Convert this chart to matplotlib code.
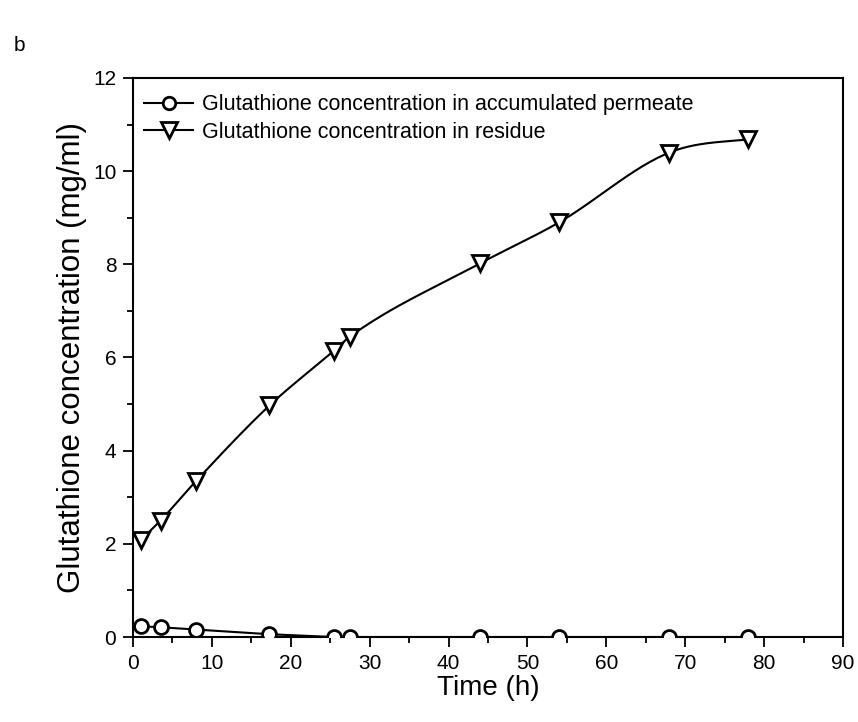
import numpy as np
import matplotlib.pyplot as plt
from matplotlib.ticker import MultipleLocator

plt.rcParams['font.family'] = ['Liberation Sans', 'DejaVu Sans']

# data
time_h = [1, 3.5, 8, 17.3, 25.5, 27.5, 44, 54, 68, 78]
permeate = [0.23, 0.21, 0.16, 0.06, 0.0, 0.0, 0.0, 0.0, 0.0, 0.0]
residue = [2.08, 2.5, 3.35, 4.97, 6.15, 6.45, 8.02, 8.9, 10.4, 10.68]


def smooth(x, y, n=30):
    # cubic hermite curve through the points, line only
    x = np.asarray(x, float)
    y = np.asarray(y, float)
    d = np.diff(y) / np.diff(x)
    m = np.empty_like(y)
    m[0], m[-1] = d[0], d[-1] * 0.6
    m[1:-1] = (d[:-1] + d[1:]) / 2
    xs, ys = [], []
    for i in range(len(x) - 1):
        h = x[i + 1] - x[i]
        t = np.linspace(0, 1, n)
        h00 = 2*t**3 - 3*t**2 + 1
        h10 = t**3 - 2*t**2 + t
        h01 = -2*t**3 + 3*t**2
        h11 = t**3 - t**2
        xs.append(x[i] + t*h)
        ys.append(h00*y[i] + h10*h*m[i] + h01*y[i+1] + h11*h*m[i+1])
    return np.concatenate(xs), np.concatenate(ys)


fig = plt.figure(figsize=(8.58, 7.22), dpi=100)
ax = fig.add_axes([0.155, 0.1177, 0.8275, 0.7743])

ax.plot(time_h, permeate, '-', color='black', lw=1.5, zorder=2)
ax.plot(time_h, permeate, 'o', color='black', mfc='white', mew=2, ms=10, zorder=3)
sx, sy = smooth(time_h, residue)
ax.plot(sx, sy, '-', color='black', lw=1.5, zorder=2)
ax.plot(time_h, residue, 'v', color='black', mfc='white', mew=2, ms=12, zorder=3)

# legend proxies
h1, = ax.plot([], [], '-o', color='black', mfc='white', mew=2, ms=9, lw=1.5)
h2, = ax.plot([], [], '-v', color='black', mfc='white', mew=2, ms=11, lw=1.5)
ax.legend([h1, h2], ['Glutathione concentration in accumulated permeate',
                     'Glutathione concentration in residue'],
          loc='upper left', frameon=False, fontsize=15.5, handlelength=2.3,
          handletextpad=0.4, borderaxespad=0.3, labelspacing=0.3,
          borderpad=0.2, bbox_to_anchor=(0.0, 0.99))

ax.set_xlim(0, 90)
ax.set_ylim(0, 12)
ax.xaxis.set_major_locator(MultipleLocator(10))
ax.xaxis.set_minor_locator(MultipleLocator(5))
ax.yaxis.set_major_locator(MultipleLocator(2))
ax.yaxis.set_minor_locator(MultipleLocator(1))
ax.tick_params(which='major', direction='out', length=7, width=1.3, labelsize=15, pad=5)
ax.tick_params(which='minor', direction='out', length=4, width=1.3)
for s in ax.spines.values():
    s.set_linewidth(1.5)

ax.set_xlabel('Time (h)', fontsize=20, labelpad=2)
ax.set_ylabel('Glutathione concentration (mg/ml)', fontsize=22.5, labelpad=4)

fig.text(0.016, 0.93, 'b', fontsize=15)

fig.savefig('out.png', dpi=100)
